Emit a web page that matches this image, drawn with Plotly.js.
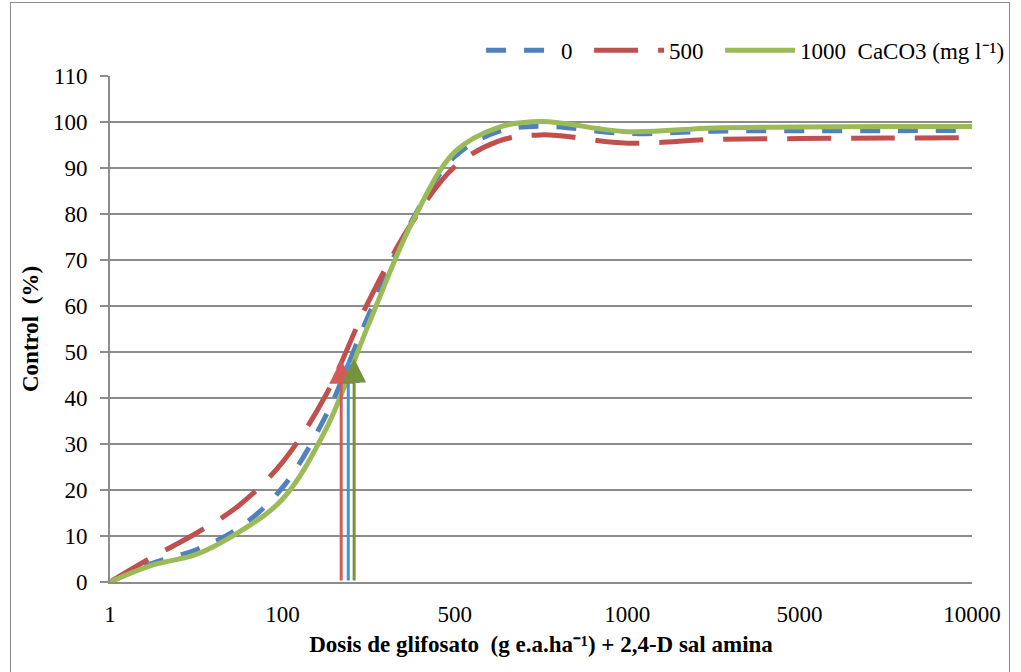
<!DOCTYPE html>
<html><head><meta charset="utf-8">
<script src="https://cdn.plot.ly/plotly-3.0.1.min.js"></script>
<style>
html,body{margin:0;padding:0;background:#fff}
#wrap{position:relative;width:1021px;height:672px;overflow:hidden}
#chart{width:1021px;height:672px}
#frame{position:absolute;left:10px;top:2px;width:998px;height:690px;border:1px solid #8c8c8c;pointer-events:none}
</style>
</head><body><div id="wrap"><div id="chart"></div><div id="frame"></div></div>
<script>
// Category axis (evenly spaced doses)
const doseLabels = ['1','100','500','1000','5000','10000'];
const doseIndex = [0,1,2,3,4,5];
// Positions along the category axis where the curves were read
const samplePos = [0,0.25,0.5,0.75,1,1.25,1.5,1.75,2,2.25,2.5,3,3.5,4,4.5,5];
// Control (%) per CaCO3 level
const control0    = [0,4.1,7.0,11.8,20.5,36,58,78.5,92.5,97.9,99.1,97.5,98.0,98.1,98.1,98.2];
const control500  = [0,5.5,10.6,16.7,26,40.5,61,78,90.3,95.8,97.2,95.4,96.2,96.4,96.5,96.6];
const control1000 = [0,3.7,6.0,10.9,18.0,33,56,78,93.5,98.8,100.1,97.9,98.7,98.9,99.0,99.0];
const seriesNames = ['0\u00A0\u00A0','500\u00A0\u00A0','1000\u00A0\u00A0CaCO3 (mg l\u207B\u00B9)'];
// ED50 markers (position on category axis, control reached)
const ed50Pos = [1.382, 1.341, 1.416];
const ed50Control = [48.5, 48.3, 48.6];

const lineColors = ['#4F81BD','#C0504D','#9BBB59'];
const arrowColors = ['#4A90D9','#D35A57','#76923C'];
const dashes = ['20px,18px','44px,20px','solid'];
const series = [control0, control500, control1000];

const traces = series.map((ys,i)=>({
  x: samplePos, y: ys, type:'scatter', mode:'lines', name: seriesNames[i],
  line:{color:lineColors[i], width:5, shape:'spline', smoothing:1, dash:dashes[i]},
  hoverinfo:'skip'
}));

const annotations = ed50Pos.map((p,i)=>({
  x:p, y:ed50Control[i], ax:p, ay:0, xref:'x', yref:'y', axref:'x', ayref:'y',
  showarrow:true, arrowhead:2, arrowsize:1.6, arrowwidth:3, arrowcolor:arrowColors[i], text:''
}));
const serif = 'Liberation Serif, Times New Roman, serif';
const layout = {
  width:1021, height:672,
  margin:{l:110, r:46, t:76, b:90},
  paper_bgcolor:'#fff', plot_bgcolor:'#fff',
  font:{family:serif, size:23, color:'#000'},
  xaxis:{
    range:[0,5], tickmode:'array', tickvals:doseIndex, ticktext:doseLabels,
    showgrid:false, zeroline:false, showline:true, linecolor:'#8c8c8c', linewidth:2,
    ticks:'outside', ticklen:10, tickcolor:'rgba(0,0,0,0)',
    tickfont:{family:serif, size:23},
    title:{text:'Dosis de glifosato\u00A0 (g e.a.ha\u207B\u00B9) + 2,4-D sal amina', font:{family:serif, size:23, weight:'bold'}, standoff:10}
  },
  yaxis:{
    range:[0,110], dtick:10, tick0:0,
    showgrid:true, gridcolor:'#8c8c8c', gridwidth:2, zeroline:false,
    showline:true, linecolor:'#8c8c8c', linewidth:2,
    ticks:'outside', ticklen:8, tickcolor:'#8c8c8c', tickwidth:2,
    ticklabelstandoff:8,
    tickfont:{family:serif, size:23},
    title:{text:'Control\u00A0 (%)', font:{family:serif, size:23, weight:'bold'}, standoff:8}
  },
  showlegend:true,
  legend:{orientation:'h', x:1.043, xanchor:'right', y:1.051, yanchor:'middle',
    font:{family:serif, size:23}, itemwidth:70, bgcolor:'rgba(0,0,0,0)', traceorder:'normal'},
  annotations: annotations
};
Plotly.newPlot('chart', traces, layout, {displayModeBar:false, staticPlot:true});
</script>
</body></html>
